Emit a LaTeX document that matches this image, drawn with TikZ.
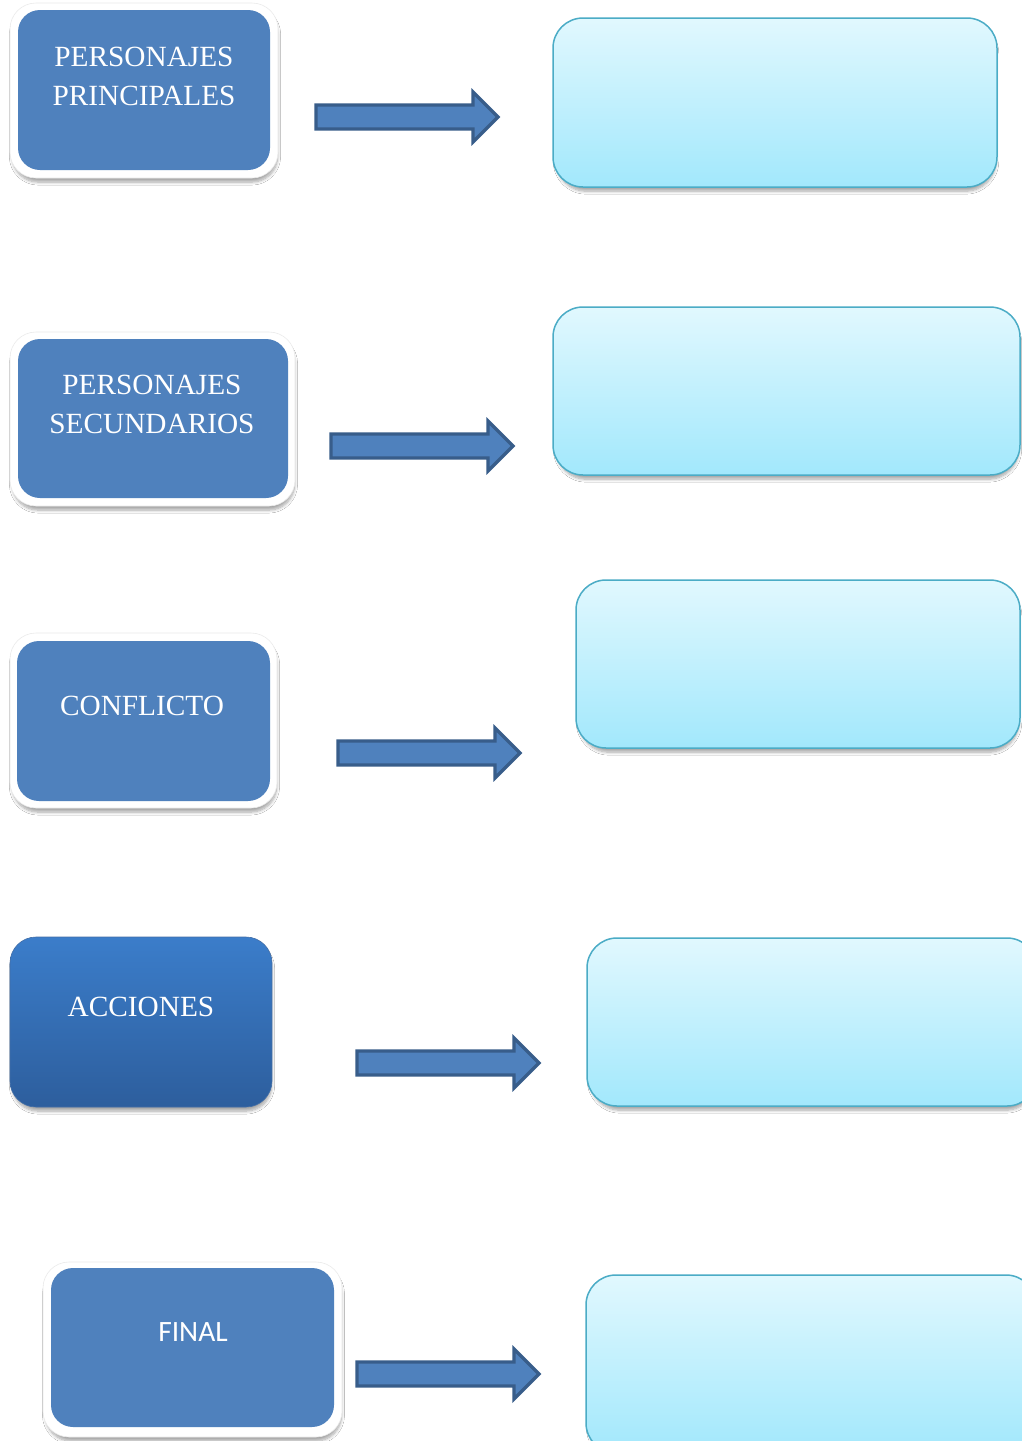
\documentclass[tikz,border=0pt]{standalone}
\usepackage{fontspec}
\setmainfont{Liberation Serif}
\newfontfamily\calib{Carlito}
\usetikzlibrary{shadows.blur}
\definecolor{mblue}{HTML}{4F81BD}
\definecolor{dblue}{HTML}{385D8A}
\definecolor{ltop}{HTML}{E1F8FE}
\definecolor{lbot}{HTML}{A2E8FC}
\definecolor{lborder}{HTML}{4BACC6}
\definecolor{gtop}{HTML}{3B7DCA}
\definecolor{gbot}{HTML}{2D5E9D}
\tikzset{
  shad/.style={blur shadow={shadow xshift=1pt, shadow yshift=-5pt, shadow blur steps=8, shadow blur radius=3pt, shadow scale=0.99, shadow opacity=35}},
  whitebox/.style={rectangle, rounded corners=26pt, fill=white, draw=black!8, line width=0.6pt, shad},
  bluebox/.style={rectangle, rounded corners=22pt, fill=mblue},
  lbl/.style={text=white, align=center, font=\fontsize{29.3}{39}\selectfont},
  gradbox/.style={rectangle, rounded corners=26pt, top color=gtop, bottom color=gbot, draw=gbot!90!white, line width=0.6pt, shad},
  lightbox/.style={rectangle, rounded corners=30pt, top color=ltop, bottom color=lbot, draw=lborder, line width=1.5pt, shad},
  arrowstyle/.style={fill=mblue, draw=dblue, line width=3.3pt, line join=miter},
  blockarr/.pic={\draw[arrowstyle] (0,-12) -- (157,-12) -- (157,-25) -- (182,0) -- (157,25) -- (157,12) -- (0,12) -- cycle;}
}
\begin{document}
\begin{tikzpicture}[x=1pt,y=-1pt]
\useasboundingbox[fill=white] (0,0) rectangle (1022,1441);
% left boxes
\node[whitebox, minimum width=268pt, minimum height=175pt] (w1) at (144,90.5) {};
\node[bluebox, minimum width=252pt, minimum height=160pt] (b1) at (144,90) {};
\node[lbl] (t1) at (144,76) {PERSONAJES\\PRINCIPALES};

\node[whitebox, minimum width=285pt, minimum height=174pt] (w2) at (152.5,419) {};
\node[bluebox, minimum width=270pt, minimum height=159pt] (b2) at (153,418.5) {};
\node[lbl] (t2) at (152,404) {PERSONAJES\\SECUNDARIOS};

\node[whitebox, minimum width=267pt, minimum height=175pt] (w3) at (143.5,720.5) {};
\node[bluebox, minimum width=253pt, minimum height=160pt] (b3) at (143.5,721) {};
\node[lbl] (t3) at (142,706) {CONFLICTO};

\node[gradbox, minimum width=262pt, minimum height=170pt] (b4) at (141,1022) {};
\node[lbl] (t4) at (141,1007) {ACCIONES};

\node[whitebox, minimum width=299pt, minimum height=175pt] (w5) at (192.5,1349.5) {};
\node[bluebox, minimum width=283pt, minimum height=159pt] (b5) at (192.5,1347.5) {};
\node[lbl, font=\calib\fontsize{29.5}{36}\selectfont] (t5) at (193,1332) {FINAL};

% right boxes
\node[lightbox, minimum width=444pt, minimum height=169pt] (r1) at (775,102.5) {};
\node[lightbox, minimum width=467pt, minimum height=168pt] (r2) at (786.5,391) {};
\node[lightbox, minimum width=444pt, minimum height=168pt] (r3) at (798,664) {};
\node[lightbox, minimum width=450pt, minimum height=168pt] (r4) at (812,1022) {};
\node[lightbox, minimum width=450pt, minimum height=178pt] (r5) at (811,1364) {};

% arrows
\coordinate (a1) at (316,117);
\coordinate (a2) at (331,446);
\coordinate (a3) at (338,753);
\coordinate (a4) at (357,1063);
\coordinate (a5) at (357,1374);
\pic at (a1) {blockarr};
\pic at (a2) {blockarr};
\pic at (a3) {blockarr};
\pic at (a4) {blockarr};
\pic at (a5) {blockarr};
\end{tikzpicture}
\end{document}
